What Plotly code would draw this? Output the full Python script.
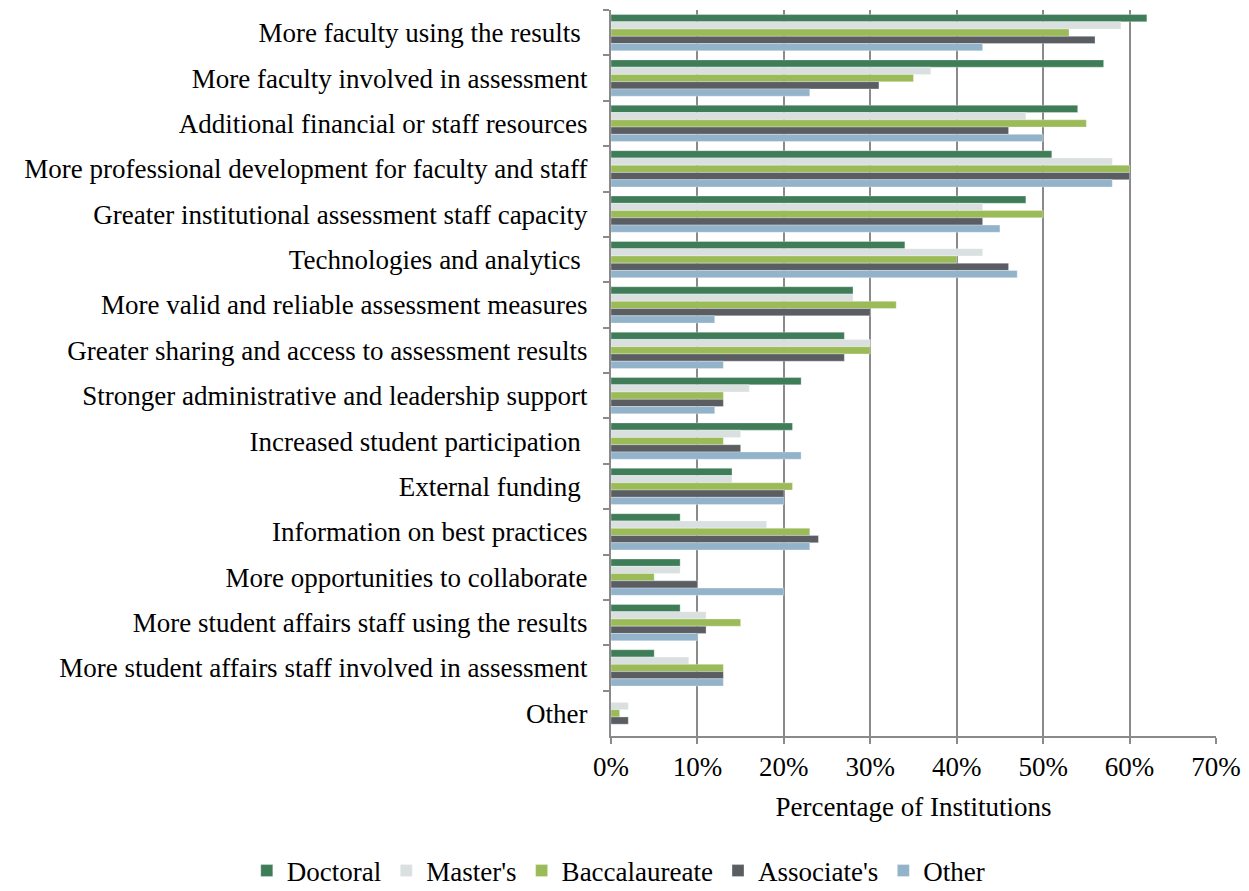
import plotly.graph_objects as go

# категории сверху вниз
categories = [
    "More faculty using the results\u00a0",
    "More faculty involved in assessment",
    "Additional financial or staff resources",
    "More professional development for faculty and staff",
    "Greater institutional assessment staff capacity",
    "Technologies and analytics\u00a0",
    "More valid and reliable assessment measures",
    "Greater sharing and access to assessment results",
    "Stronger administrative and leadership support",
    "Increased student participation\u00a0",
    "External funding\u00a0",
    "Information on best practices",
    "More opportunities to collaborate",
    "More student affairs staff using the results",
    "More student affairs staff involved in assessment",
    "Other",
]

doctoral = [62, 57, 54, 51, 48, 34, 28, 27, 22, 21, 14, 8, 8, 8, 5, 0]
masters = [59, 37, 48, 58, 43, 43, 28, 30, 16, 15, 14, 18, 8, 11, 9, 2]
baccalaureate = [53, 35, 55, 60, 50, 40, 33, 30, 13, 13, 21, 23, 5, 15, 13, 1]
associates = [56, 31, 46, 60, 43, 46, 30, 27, 13, 15, 20, 24, 10, 11, 13, 2]
other = [43, 23, 50, 58, 45, 47, 12, 13, 12, 22, 20, 23, 20, 10, 13, 0]

series = [
    ("Doctoral", doctoral, "#3f7c58"),
    ("Master's", masters, "#d9e0df"),
    ("Baccalaureate", baccalaureate, "#9bbb59"),
    ("Associate's", associates, "#5a5e62"),
    ("Other", other, "#93b3ca"),
]

FONT = "Liberation Serif, Times New Roman, serif"
GRID = "#8a8a8a"
FS = 27

fig = go.Figure()
for name, values, color in series:
    fig.add_trace(go.Bar(
        y=categories,
        x=[v / 100 for v in values],
        name=name,
        orientation="h",
        marker=dict(color=color, line=dict(color="rgba(255,255,255,0.6)", width=0.5)),
    ))

# страница добавляет 8px отступ body, поэтому фигура чуть меньше окна
fig.update_layout(
    width=1241,
    height=883,
    barmode="group",
    bargap=0.2,
    bargroupgap=0,
    plot_bgcolor="white",
    paper_bgcolor="white",
    font=dict(family=FONT, size=FS, color="black"),
    margin=dict(l=603, r=33, t=2, b=155, autoexpand=False),
    legend=dict(
        orientation="h",
        x=-0.602, xanchor="left",
        y=-0.186, yanchor="middle",
        font=dict(size=FS),
        itemwidth=30,
        traceorder="normal",
    ),
)

fig.update_xaxes(
    range=[0, 0.7],
    tickformat=".0%",
    dtick=0.1,
    showgrid=True,
    gridcolor=GRID,
    gridwidth=2,
    zeroline=False,
    showline=True,
    linecolor=GRID,
    linewidth=2,
    ticks="outside",
    ticklen=6,
    tickcolor=GRID,
    tickwidth=2,
    tickfont=dict(size=FS),
    automargin=False,
    title=dict(text="Percentage of Institutions", font=dict(size=FS), standoff=16),
)

fig.update_yaxes(
    autorange="reversed",
    type="category",
    showline=True,
    linecolor=GRID,
    linewidth=2,
    ticks="outside",
    tickson="boundaries",
    ticklen=6,
    tickcolor=GRID,
    tickwidth=2,
    showgrid=False,
    tickfont=dict(size=FS),
    ticklabelstandoff=16,
    automargin=False,
)

fig.write_html("out.html")
